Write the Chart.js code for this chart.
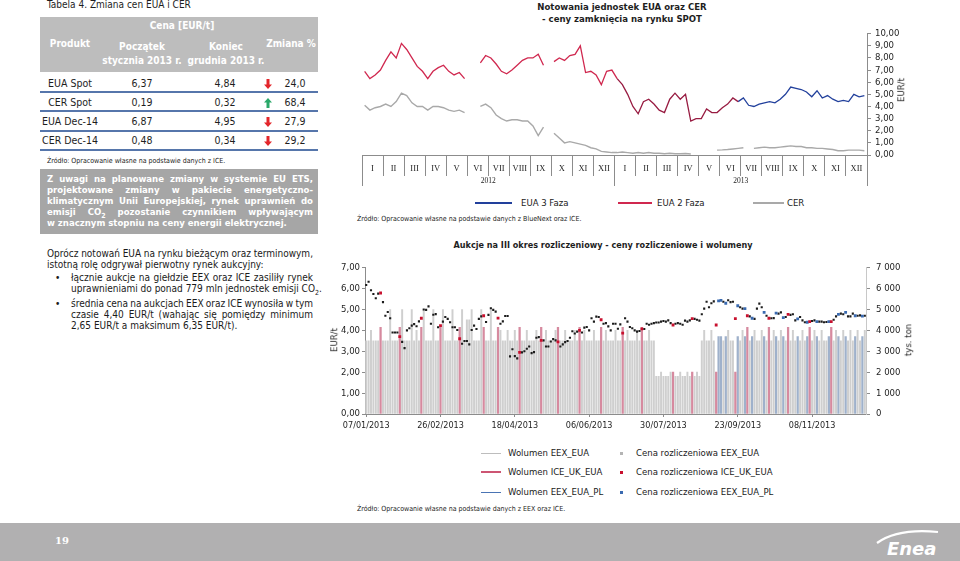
<!DOCTYPE html>
<html lang="pl">
<head>
<meta charset="utf-8">
<title>Zmiana cen EUA i CER</title>
<script src="https://cdn.jsdelivr.net/npm/chart.js@4.4.1/dist/chart.umd.min.js"></script>
<style>
html, body { margin: 0; padding: 0; background: #fff; }
body { position: relative; width: 960px; height: 561px; overflow: hidden;
       font-family: "DejaVu Sans Condensed", "Liberation Sans", sans-serif; color: #1e1e1e; }
.t { position: absolute; white-space: nowrap; line-height: 1; }
.cc { transform: translate(-50%, -50%); }
.lc { transform: translateY(-50%); }
.rot { transform: translate(-50%, -50%) rotate(-90deg); }
.hd { color: #fff; font-weight: bold; font-size: 10px; }
.cell { font-size: 10.5px; }
.src { font-size: 7px; color: #222; }
.rule { position: absolute; left: 40px; width: 278px; height: 2px; background: #5676ab; }
.jl { position: absolute; white-space: nowrap; display: inline-block; }
.box { position: absolute; left: 40px; top: 169px; width: 278px; height: 65px; background: #a6a6a6; }
.boxline { color: #fff; font-weight: bold; font-size: 9.5px; line-height: 11px; }
.para { font-size: 10px; line-height: 11px; color: #1a1a1a; }
.leg { font-size: 9.5px; color: #1a1a1a; }
.sw { position: absolute; }
canvas { position: absolute; }
</style>
</head>
<body>

<!-- table -->
<div class="t" style="left:47px; top:0px; font-size:10px;">Tabela 4. Zmiana cen EUA i CER</div>
<div style="position:absolute; left:40px; top:17px; width:278px; height:55px; background:#bdbdbd;"></div>
<div class="t cc hd" style="left:182px; top:26px;">Cena [EUR/t]</div>
<div class="t cc hd" style="left:70px; top:44px;">Produkt</div>
<div class="t cc hd" style="left:142px; top:47px;">Początek</div>
<div class="t cc hd" style="left:142px; top:61px;">stycznia 2013 r.</div>
<div class="t cc hd" style="left:226px; top:47px;">Koniec</div>
<div class="t cc hd" style="left:226px; top:61px;">grudnia 2013 r.</div>
<div class="t cc hd" style="left:291px; top:44px;">Zmiana %</div>
<div id="rows"></div>
<div class="rule" style="top:91px;"></div>
<div class="rule" style="top:110px;"></div>
<div class="rule" style="top:130px;"></div>
<div class="rule" style="top:149px;"></div>
<div class="t src" style="left:47px; top:158px;">Źródło: Opracowanie własne na podstawie danych z ICE.</div>

<div class="box"></div>
<div class="jl boxline" data-w="266" style="left:47px; top:173px;">Z uwagi na planowane zmiany w systemie EU ETS,</div>
<div class="jl boxline" data-w="266" style="left:47px; top:184px;">projektowane zmiany w pakiecie energetyczno-</div>
<div class="jl boxline" data-w="266" style="left:47px; top:195px;">klimatycznym Unii Europejskiej, rynek uprawnień do</div>
<div class="jl boxline" data-w="266" style="left:47px; top:206px;">emisji CO<sub style="font-size:7px; line-height:0;">2</sub> pozostanie czynnikiem wpływającym</div>
<div class="jl boxline" style="left:47px; top:217px;">w znacznym stopniu na ceny energii elektrycznej.</div>

<div class="jl para" data-w="266" style="left:47px; top:248px;">Oprócz notowań EUA na rynku bieżącym oraz terminowym,</div>
<div class="jl para" style="left:47px; top:259px;">istotną rolę odgrywał pierwotny rynek aukcyjny:</div>
<div class="t para" style="left:55px; top:272px;">•</div>
<div class="jl para" data-w="242" style="left:71px; top:272px;">łącznie aukcje na giełdzie EEX oraz ICE zasiliły rynek</div>
<div class="jl para" style="left:71px; top:283px;">uprawnieniami do ponad 779 mln jednostek emisji CO<sub style="font-size:7px; line-height:0;">2</sub>.</div>
<div class="t para" style="left:55px; top:298px;">•</div>
<div class="jl para" data-w="242" style="left:71px; top:298px;">średnia cena na aukcjach EEX oraz ICE wynosiła w tym</div>
<div class="jl para" data-w="242" style="left:71px; top:309px;">czasie 4,40 EUR/t (wahając się pomiędzy minimum</div>
<div class="jl para" style="left:71px; top:320px;">2,65 EUR/t a maksimum 6,35 EUR/t).</div>

<!-- spot chart -->
<div class="t cc" style="left:622px; top:7px; font-size:9.5px; font-weight:bold;">Notowania jednostek EUA oraz CER</div>
<div class="t cc" style="left:622px; top:19px; font-size:9.5px; font-weight:bold;">- ceny zamknięcia na rynku SPOT</div>
<canvas id="spot" width="580" height="170" style="left:340px; top:24px;"></canvas>
<div class="t rot" style="left:901px; top:90px; font-size:9.5px;">EUR/t</div>
<div class="sw" style="left:475px; top:202px; width:37px; height:2px; background:#22409c;"></div>
<div class="t lc leg" style="left:521px; top:203px;">EUA 3 Faza</div>
<div class="sw" style="left:618px; top:202px; width:34px; height:2px; background:#d0284f;"></div>
<div class="t lc leg" style="left:657px; top:203px;">EUA 2 Faza</div>
<div class="sw" style="left:753px; top:202px; width:31px; height:2px; background:#a9a9a9;"></div>
<div class="t lc leg" style="left:787px; top:203px;">CER</div>
<div class="t src" style="left:357px; top:216px;">Źródło: Opracowanie własne na podstawie danych z BlueNext oraz ICE.</div>

<!-- auction chart -->
<div class="t cc" style="left:603px; top:245px; font-size:9px; font-weight:bold;">Aukcje na III okres rozliczeniowy - ceny rozliczeniowe i wolumeny</div>
<canvas id="auction" width="594" height="180" style="left:326px; top:256px;"></canvas>
<div class="t rot" style="left:334px; top:340px; font-size:9.5px;">EUR/t</div>
<div class="t rot" style="left:908px; top:340px; font-size:9.5px;">tys. ton</div>

<div class="sw" style="left:481px; top:453px; width:20px; height:1px; background:#bdbdbd;"></div>
<div class="t lc leg" style="left:508px; top:453px;">Wolumen EEX_EUA</div>
<div class="sw" style="left:481px; top:471px; width:20px; height:2px; background:#cd5573;"></div>
<div class="t lc leg" style="left:508px; top:472px;">Wolumen ICE_UK_EUA</div>
<div class="sw" style="left:481px; top:492px; width:20px; height:1px; background:#4a74b4;"></div>
<div class="t lc leg" style="left:508px; top:492px;">Wolumen EEX_EUA_PL</div>
<div class="sw" style="left:620px; top:452px; width:3px; height:3px; background:#b4b4b4;"></div>
<div class="t lc leg" style="left:636px; top:453px;">Cena rozliczeniowa EEX_EUA</div>
<div class="sw" style="left:620px; top:471px; width:3px; height:3px; background:#c8102e;"></div>
<div class="t lc leg" style="left:636px; top:472px;">Cena rozliczeniowa ICE_UK_EUA</div>
<div class="sw" style="left:620px; top:491px; width:3px; height:3px; background:#3a6ab0;"></div>
<div class="t lc leg" style="left:636px; top:492px;">Cena rozliczeniowa EEX_EUA_PL</div>
<div class="t src" style="left:357px; top:506px;">Źródło: Opracowanie własne na podstawie danych z EEX oraz ICE.</div>

<!-- footer -->
<div style="position:absolute; left:0; top:523px; width:960px; height:38px; background:#b1b0b1;"></div>
<div class="t cc" style="left:62px; top:541px; color:#fff; font-weight:bold; font-size:10px; font-family:'DejaVu Serif', serif;">19</div>
<svg style="position:absolute; left:870px; top:522px;" width="90" height="39">
  <path d="M7 21 Q 28 6 68 10" fill="none" stroke="#fff" stroke-width="2.2"/>
  <text x="17" y="33" fill="#fff" font-family="DejaVu Sans, sans-serif" font-size="18" font-weight="bold" font-style="italic">Enea</text>
</svg>

<script>
'use strict';

// Tabela 4
const products = ['EUA Spot', 'CER Spot', 'EUA Dec-14', 'CER Dec-14'];
const priceStart = ['6,37', '0,19', '6,87', '0,48'];
const priceEnd = ['4,84', '0,32', '4,95', '0,34'];
const changePct = ['24,0', '68,4', '27,9', '29,2'];
const changeUp = [false, true, false, false];

// Notowania SPOT: wartości co ~tydzień (4 na miesiąc), I.2012 - XII.2013
const monthNames = ['I', 'II', 'III', 'IV', 'V', 'VI', 'VII', 'VIII', 'IX', 'X', 'XI', 'XII'];
const spotYears = ['2012', '2013'];
const eua2 = [
    6.9, 6.3, 6.6, 7.0, 7.8, 8.5, 8.0, 9.2, 8.7, 8.0, 7.3, 6.9,
    6.3, 6.9, 7.2, 7.4, 6.9, 6.6, 6.8, 6.3, null, null, 7.6, 8.2,
    8.0, 7.5, 6.9, 6.7, 7.0, 7.4, 7.8, 8.0, 8.0, 8.3, 7.4, null,
    7.7, 8.0, 7.8, 8.2, 8.3, 9.0, 6.8, 6.9, 6.6, 5.8, 6.9, 7.0,
    6.3, 5.8, 5.0, 4.0, 3.4, 4.4, 4.6, 4.2, 3.7, 3.5, 4.6, 5.1,
    4.6, 5.0, 2.8, 3.0, 3.0, 3.8, 3.5, 3.5, 3.9, 4.2, 4.7, 4.4
];
const eua3Start = 71;
const eua3 = [
    4.4, 4.7, 4.1, 4.0, 4.2, 4.3, 4.4, 4.3, 4.6, 5.0, 5.6, 5.5, 5.4,
    5.2, 4.8, 5.3, 4.7, 4.9, 4.6, 4.4, 4.5, 4.4, 5.0, 4.8, 4.9
];
const cer = [
    4.1, 3.7, 3.9, 4.0, 4.2, 4.0, 4.4, 5.1, 4.9, 4.3, 4.0, 4.0,
    3.7, 4.0, 4.0, 3.9, 3.7, 3.6, 3.7, 3.5, null, null, 4.0, 4.2,
    3.9, 3.3, 3.0, 2.8, 2.9, 2.9, 2.8, 2.8, 2.4, 1.6, 2.3, null,
    1.8, 1.4, 1.0, 1.1, 1.0, 0.9, 0.8, 0.6, 0.5, 0.3, 0.25, 0.2,
    0.2, 0.25, 0.2, 0.15, 0.2, 0.15, 0.2, 0.15, 0.15, 0.1, 0.15, 0.1,
    0.1, 0.12, 0.08, null, null, null, null, 0.4, 0.42, 0.45, 0.5, 0.55,
    0.6, null, 0.55, 0.6, 0.65, 0.6, 0.6, 0.65, 0.7, 0.75, 0.7, 0.7,
    0.6, 0.6, 0.55, 0.55, 0.5, 0.45, 0.35, 0.35, 0.4, 0.4, 0.4, 0.35
];

// Aukcje 2013: platforma (E = EEX_EUA, I = ICE_UK_EUA, P = EEX_EUA_PL), cena [EUR/t], wolumen [tys. ton]
const dateTicks = ['07/01/2013', '26/02/2013', '18/04/2013', '06/06/2013', '30/07/2013', '23/09/2013', '08/11/2013'];
const dateTickStep = 31;
const auctionPlatform = (
    'EEEEEEIEEE' + 'EEEEIEEEEE' + 'EEEIEEEEEE' + 'EIEEEEEEEI' + 'EEEEEEEEEI' +
    'EEEEEIEEEE' + 'EEEEIEEEEE' + 'EEEIEEEEEE' + 'IEEEEEEEEI' + 'EEEEEEEEIE' +
    'EEEEEEEIEE' + 'EEEEEIEEEE' + 'EEEEEEEEIE' + 'EEEEEEIEEE' + 'EEEEEEIPPE' +
    'PEEEIPEEPI' + 'EPEEEEPEIE' + 'EPEEPEIEEE' + 'PEEEPIEEPE' + 'EEEPIEEPEE' +
    'PEEEPEEPE'
).split('');
const auctionPrice = [
    6.17, 6.33, 5.92, 5.74, 5.54, 5.76, 5.79, 5.35, 4.70, 4.88,
    4.58, 3.90, 3.90, 3.90, 3.70, 3.45, 3.15, 4.00, 4.10, 4.23,
    4.30, 4.20, 4.43, 4.58, 5.00, 4.98, 5.15, 4.32, 4.75, 4.78,
    4.15, 4.23, 4.42, 4.64, 4.55, 4.39, 4.15, 4.15, 4.02, 3.60,
    3.36, 3.49, 3.49, 3.33, 4.02, 4.23, 4.07, 4.55, 4.67, 4.70,
    4.40, 4.74, 5.06, 4.98, 4.90, 4.59, 4.32, 4.43, 4.69, 4.69,
    2.76, 3.10, 2.77, 2.66, 2.95, 2.95, 3.00, 3.12, 3.23, 2.91,
    2.96, 3.65, 3.68, 3.52, 3.52, 3.23, 3.23, 3.47, 3.58, 3.52,
    3.45, 3.23, 3.33, 3.44, 3.49, 3.65, 3.96, 3.85, 3.94, 4.00,
    3.90, 4.13, 4.16, 4.00, 4.58, 4.42, 4.66, 4.64, 4.51, 4.32,
    4.35, 4.19, 4.00, 4.32, 4.32, 4.08, 4.29, 3.87, 4.58, 4.42,
    4.16, 4.10, 4.00, 3.94, 3.97, 4.07, 4.07, 4.32, 4.27, 4.32,
    4.35, 4.38, 4.38, 4.42, 4.45, 4.42, 4.48, 4.35, 4.26, 4.32,
    4.35, 4.32, 4.27, 4.47, 4.42, 4.48, 4.56, 4.55, 4.51, 4.47,
    4.77, 5.04, 5.37, 5.11, 5.30, 5.39, 4.26, 5.41, 5.44, 5.37,
    5.30, 5.44, 5.35, 5.37, 4.56, 5.18, 5.11, 5.04, 5.04, 4.70,
    4.67, 4.58, 4.55, 5.04, 5.28, 5.11, 4.86, 4.70, 4.58, 4.58,
    4.59, 4.83, 4.80, 4.86, 4.61, 4.64, 4.77, 4.74, 4.77, 4.48,
    4.55, 4.64, 4.48, 4.39, 4.39, 4.42, 4.45, 4.48, 4.42, 4.42,
    4.42, 4.39, 4.40, 4.42, 4.42, 4.51, 4.67, 4.77, 4.80, 4.77,
    4.86, 4.67, 4.67, 4.80, 4.70, 4.70, 4.72, 4.68, 4.70
];
const auctionVolume = [
    3500, 3500, 4000, 3500, 3500, 3500, 4150, 3500, 3500, 3500,
    5000, 3500, 3500, 3500, 4150, 5000, 3500, 3500, 3500, 5000,
    3500, 4000, 3500, 4150, 5000, 3500, 3500, 3500, 5000, 3500,
    3500, 4150, 5000, 3500, 3500, 3500, 5000, 3500, 3500, 4150,
    5000, 3500, 4500, 4500, 5000, 3500, 3500, 3500, 5000, 4150,
    3500, 3500, 5000, 3500, 3500, 4150, 4000, 3500, 3500, 4000,
    3500, 3500, 4000, 3500, 4150, 3500, 3500, 4000, 3500, 3500,
    3500, 4000, 3500, 4150, 3500, 4000, 3500, 3500, 3500, 4000,
    4150, 3500, 3500, 4000, 3500, 3500, 3500, 4000, 3500, 4150,
    3500, 4000, 3500, 3500, 3500, 4000, 3500, 3500, 4150, 3500,
    4000, 3500, 3500, 3500, 4000, 3500, 3500, 4150, 3500, 4000,
    3500, 3500, 3500, 4000, 3500, 4150, 3500, 3500, 4000, 3500,
    3500, 1800, 1800, 2000, 1800, 1800, 1800, 2000, 2000, 1800,
    1800, 2000, 1800, 1800, 2000, 1800, 2000, 1800, 2000, 1800,
    3500, 4000, 3500, 3500, 4000, 3500, 2000, 3700, 3700, 3500,
    3700, 4000, 3500, 3500, 2000, 3700, 3500, 4000, 3700, 4150,
    3500, 3700, 4000, 3500, 3500, 4000, 3700, 3500, 4150, 3500,
    4000, 3700, 3500, 4000, 3700, 3500, 4150, 3500, 4000, 3500,
    3700, 3500, 4000, 3500, 3700, 4150, 3500, 4000, 3700, 3500,
    4000, 3500, 3500, 3700, 4150, 3500, 4000, 3700, 3500, 4000,
    3700, 3500, 4000, 3500, 3700, 4000, 3500, 3700, 4000
];

// --- table rows ---
const rowY = [83, 102, 121, 140];
const arrowDown = '<svg width="8" height="10"><path d="M2.5 0h3v5.5h2.5l-4 4.5l-4-4.5h2.5z" fill="#e3262b"/></svg>';
const arrowUp = '<svg width="8" height="10"><path d="M2.5 10h3v-5.5h2.5l-4-4.5l-4 4.5h2.5z" fill="#2aa869"/></svg>';
const rowsEl = document.getElementById('rows');
products.forEach((p, i) => {
    const y = rowY[i];
    rowsEl.insertAdjacentHTML('beforeend',
        `<div class="t cc cell" style="left:70px; top:${y}px;">${p}</div>` +
        `<div class="t cc cell" style="left:142px; top:${y}px;">${priceStart[i]}</div>` +
        `<div class="t cc cell" style="left:225px; top:${y}px;">${priceEnd[i]}</div>` +
        `<div class="t cc" style="left:268px; top:${y + 1}px;">${changeUp[i] ? arrowUp : arrowDown}</div>` +
        `<div class="t cc cell" style="left:295px; top:${y}px;">${changePct[i]}</div>`);
});

// --- justify fixed lines ---
document.querySelectorAll('.jl[data-w]').forEach(el => {
    const target = parseFloat(el.dataset.w);
    const spaces = (el.textContent.match(/ /g) || []).length;
    const natural = el.getBoundingClientRect().width;
    if (spaces) el.style.wordSpacing = ((target - natural) / spaces) + 'px';
});

Chart.defaults.font.family = '"DejaVu Sans Condensed", "Liberation Sans", sans-serif';
Chart.defaults.color = '#1e1e1e';
const axisGray = '#8c8c8c';
const noColor = 'rgba(0,0,0,0)';
const comma2 = v => v.toFixed(2).replace('.', ',');

// --- spot chart ---
const monthLabels = monthNames.concat(monthNames);
const toPoints = (vals, start) => vals.map((v, i) => ({ x: (start + i) / 4 + 0.125, y: v }));

new Chart(document.getElementById('spot'), {
    type: 'line',
    data: {
        datasets: [
            {
                label: 'EUA 2 Faza', data: toPoints(eua2, 0), borderColor: '#d0284f', borderWidth: 1.3,
                pointRadius: 0, tension: 0,
                segment: { borderColor: c => c.p0.parsed.x > 12 ? '#981c42' : '#d0284f' }
            },
            { label: 'EUA 3 Faza', data: toPoints(eua3, eua3Start), borderColor: '#22409c', borderWidth: 1.3, pointRadius: 0 },
            { label: 'CER', data: toPoints(cer, 0), borderColor: '#a9a9a9', borderWidth: 1.4, pointRadius: 0 }
        ]
    },
    options: {
        responsive: false,
        animation: false,
        events: [],
        spanGaps: false,
        layout: { padding: { left: 22, top: 7, right: 0, bottom: 7 } },
        plugins: { legend: { display: false }, tooltip: { enabled: false } },
        scales: {
            x: {
                type: 'linear', position: 'bottom', weight: 0, min: 0, max: 24,
                afterBuildTicks: s => {
                    const t = [];
                    for (let k = 0; k <= 48; k++) t.push({ value: k / 2 });
                    s.ticks = t;
                },
                afterFit: s => { s.height = 18; },
                ticks: {
                    autoSkip: false, maxRotation: 0, padding: -12,
                    font: { family: '"Liberation Serif", serif', size: 8.5 }, color: '#222',
                    callback: v => (v % 1 === 0.5) ? monthLabels[Math.floor(v)] : ''
                },
                grid: {
                    drawOnChartArea: false, drawTicks: true, tickLength: 21,
                    tickColor: c => (c.tick && c.tick.value % 1 === 0) ? axisGray : noColor
                },
                border: { display: true, color: axisGray }
            },
            x2: {
                type: 'linear', position: 'bottom', weight: 1, min: 0, max: 24,
                afterBuildTicks: s => { s.ticks = [0, 6, 12, 18, 24].map(v => ({ value: v })); },
                afterFit: s => { s.height = 14; },
                ticks: {
                    autoSkip: false, maxRotation: 0, padding: -9,
                    font: { family: '"Liberation Serif", serif', size: 7.5 }, color: '#222',
                    callback: v => (v === 6) ? spotYears[0] : (v === 18 ? spotYears[1] : '')
                },
                grid: {
                    drawOnChartArea: false, drawTicks: true, tickLength: 13,
                    tickColor: c => (c.tick && c.tick.value % 12 === 0) ? axisGray : noColor
                },
                border: { display: false }
            },
            y: {
                position: 'right', min: 0, max: 10,
                afterFit: s => { s.width = 53; },
                ticks: { stepSize: 1, autoSkip: false, padding: 4, font: { size: 9.5 }, callback: v => comma2(v) },
                grid: { drawOnChartArea: false, tickLength: 4, tickColor: axisGray },
                border: { color: axisGray }
            }
        }
    }
});

// --- auction chart ---
const auctionLabels = auctionPrice.map((_, i) => (i % dateTickStep === 0 && dateTicks[i / dateTickStep]) ? dateTicks[i / dateTickStep] : '');
const pick = (arr, code) => arr.map((v, i) => auctionPlatform[i] === code ? v : null);
const spaced = v => String(v).replace(/\B(?=(\d{3})+(?!\d))/g, ' ');

new Chart(document.getElementById('auction'), {
    type: 'bar',
    data: {
        labels: auctionLabels,
        datasets: [
            { type: 'line', label: 'Cena rozliczeniowa ICE_UK_EUA', data: pick(auctionPrice, 'I'), yAxisID: 'y', showLine: false,
              pointStyle: 'rect', pointRadius: 2, pointBorderWidth: 0, pointBackgroundColor: '#c8102e', order: 0 },
            { type: 'line', label: 'Cena rozliczeniowa EEX_EUA_PL', data: pick(auctionPrice, 'P'), yAxisID: 'y', showLine: false,
              pointStyle: 'rect', pointRadius: 2, pointBorderWidth: 0, pointBackgroundColor: '#3a6ab0', order: 0 },
            { type: 'line', label: 'Cena rozliczeniowa EEX_EUA', data: pick(auctionPrice, 'E'), yAxisID: 'y', showLine: false,
              pointStyle: 'rect', pointRadius: 1.5, pointBorderWidth: 0, pointBackgroundColor: '#1c1c1c', order: 0 },
            { label: 'Wolumen EEX_EUA', data: pick(auctionVolume, 'E'), yAxisID: 'y2', backgroundColor: '#cfcfcf',
              barThickness: 1.3, grouped: false, order: 1 },
            { label: 'Wolumen ICE_UK_EUA', data: pick(auctionVolume, 'I'), yAxisID: 'y2', backgroundColor: '#d68a9f',
              barThickness: 1.6, grouped: false, order: 1 },
            { label: 'Wolumen EEX_EUA_PL', data: pick(auctionVolume, 'P'), yAxisID: 'y2', backgroundColor: '#9fb1cb',
              barThickness: 1.6, grouped: false, order: 1 }
        ]
    },
    options: {
        responsive: false,
        animation: false,
        events: [],
        layout: { padding: { left: 0, top: 9, right: 0, bottom: 0 } },
        plugins: { legend: { display: false }, tooltip: { enabled: false } },
        scales: {
            x: {
                type: 'category', offset: true,
                afterFit: s => { s.height = 22; },
                ticks: { autoSkip: false, maxRotation: 0, padding: 3, font: { size: 9 }, color: '#1e1e1e' },
                grid: {
                    drawOnChartArea: false, drawTicks: true, tickLength: 3, offset: false,
                    tickColor: c => auctionLabels[c.index] ? axisGray : noColor
                },
                border: { color: axisGray }
            },
            y: {
                position: 'left', min: 0, max: 7,
                afterFit: s => { s.width = 39; },
                ticks: { stepSize: 1, autoSkip: false, padding: 2, font: { size: 9.5 }, callback: v => comma2(v) },
                grid: { drawOnChartArea: false, tickLength: 3, tickColor: axisGray },
                border: { color: axisGray }
            },
            y2: {
                position: 'right', min: 0, max: 7000,
                afterFit: s => { s.width = 54; },
                ticks: { stepSize: 1000, autoSkip: false, padding: 6, font: { size: 9.5 }, callback: v => spaced(v) },
                grid: { drawOnChartArea: false, tickLength: 4, tickColor: axisGray },
                border: { color: '#c8c8c8' }
            }
        }
    }
});
</script>
</body>
</html>
